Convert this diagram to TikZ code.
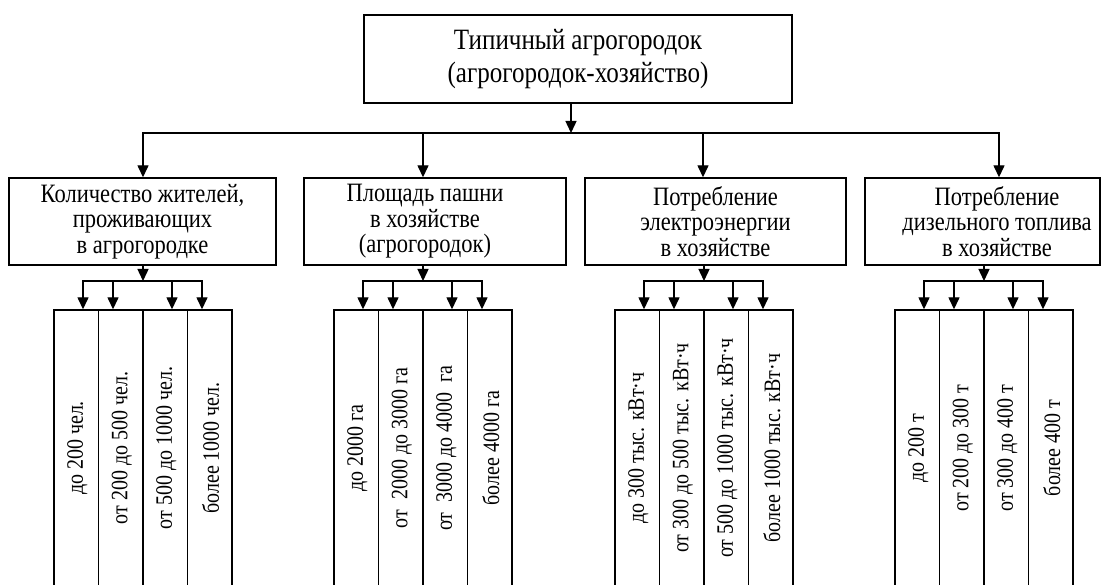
\documentclass[tikz,border=0pt]{standalone}
\usepackage{fontspec}
\setmainfont{Liberation Serif}[FakeStretch=0.85]
\usetikzlibrary{arrows.meta}
\newcommand{\agrgroup}[7]{%
  \foreach \k/\t in {1/{#4},2/{#5},3/{#6},4/{#7}} {
    \node[col] (c#1\k) at (#2+22.25+44.5*\k-44.5,455) {};
    \node[vt] (v#1\k) at ([xshift=1pt,yshift=7pt]c#1\k.center) {\t};
  }
  \coordinate (m#1) at (#2+89,281);
  \draw[arr] (#3.south -| m#1) -- (m#1);
  \coordinate (p#1a) at (#2+29,281);
  \coordinate (p#1b) at (#2+59,281);
  \coordinate (p#1c) at (#2+118,281);
  \coordinate (p#1d) at (#2+148,281);
  \draw (p#1a) -- (p#1d);
  \draw[arr] (p#1a) -- (p#1a |- c#11.north);
  \draw[arr] (p#1b) -- (p#1b |- c#12.north);
  \draw[arr] (p#1c) -- (p#1c |- c#13.north);
  \draw[arr] (p#1d) -- (p#1d |- c#14.north);
}
\begin{document}
\begin{tikzpicture}[x=1pt,y=-1pt, line width=1.4pt, line cap=rect,
  arr/.style={-{Triangle[length=12pt,width=11pt]}},
  box/.style={draw, inner sep=0pt, minimum height=87pt},
  toptext/.style={font=\fontsize{29.5}{33.5}\selectfont, align=center},
  midtext/.style={font=\fontsize{26.5}{25.5}\selectfont, align=center},
  col/.style={draw, inner sep=0pt, minimum width=44.5pt, minimum height=290pt},
  vt/.style={rotate=90, font=\fontsize{23.5}{26}\selectfont, inner sep=0pt}]
\clip (0,0) rectangle (1101,585);
\fill[white] (0,0) rectangle (1101,585);

\node[box, minimum width=428pt, minimum height=88pt, toptext] (top) at (578,59)
  {Типичный агрогородок\\(агрогородок-хозяйство)};

\node[box, minimum width=267pt, midtext] (b1) at (142.5,221.5)
  {Количество жителей,\\проживающих\\в агрогородке};
\node[box, minimum width=262pt] (b2) at (435,221.5) {};
\node[midtext] (b2t) at (425,221.5) {Площадь пашни\\в хозяйстве\\(агрогородок)};
\node[box, minimum width=261pt, midtext] (b3) at (715.5,221.5)
  {Потребление\\электроэнергии\\в хозяйстве};
\node[box, minimum width=235pt] (b4) at (982.5,221.5) {};
\node[midtext] (b4t) at (997,221.5) {Потребление\\дизельного топлива\\в хозяйстве};

\coordinate (bus) at (571,133);
\coordinate (t1) at (143,133);
\coordinate (t2) at (423,133);
\coordinate (t3) at (703,133);
\coordinate (t4) at (999,133);
\draw[arr] (top.south -| bus) -- (bus);
\draw (t1) -- (t4);
\draw[arr] (t1) -- (t1 |- b1.north);
\draw[arr] (t2) -- (t2 |- b2.north);
\draw[arr] (t3) -- (t3 |- b3.north);
\draw[arr] (t4) -- (t4 |- b4.north);

\agrgroup{1}{54}{b1}{до 200 чел.}{от 200 до 500 чел.}{от 500 до 1000 чел.}{более 1000 чел.}
\agrgroup{2}{334}{b2}{до 2000 га}{от\ \ 2000 до 3000 га}{от\ \ 3000 до 4000\ \ га}{более 4000 га}
\agrgroup{3}{615}{b3}{до 300 тыс. кВт·ч}{от 300 до 500 тыс. кВт·ч}{от 500 до 1000 тыс. кВт·ч}{более 1000 тыс. кВт·ч}
\agrgroup{4}{895}{b4}{до 200 т}{от 200 до 300 т}{от 300 до 400 т}{более 400 т}
\end{tikzpicture}
\end{document}
